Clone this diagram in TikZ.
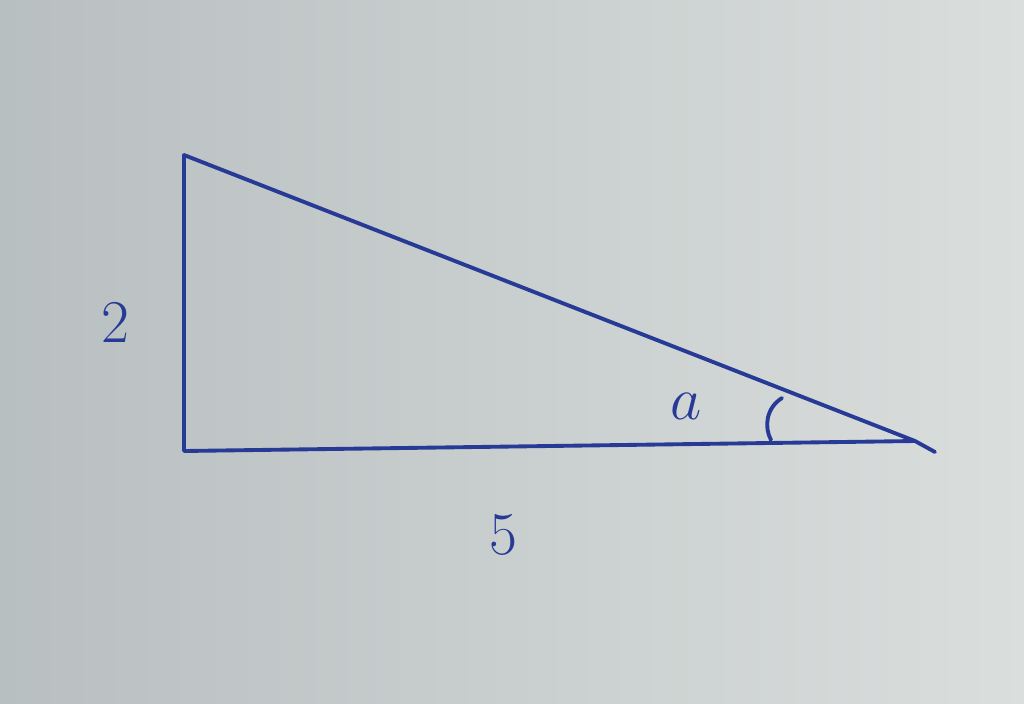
\documentclass[tikz,border=0pt]{standalone}
\usetikzlibrary{calc}
\definecolor{paperL}{RGB}{184,191,192}
\definecolor{paperR}{RGB}{218,222,221}
\definecolor{ink}{RGB}{38,58,150}
\tikzset{
  edge/.style={draw=ink, line width=1.1pt, line cap=round, line join=round},
  lbl/.style={text=ink, font=\fontsize{16}{18}\selectfont, inner sep=0pt}
}
\begin{document}
\begin{tikzpicture}
\shade[left color=paperL, right color=paperR] (0,0) rectangle (10.24,7.03);
\useasboundingbox (0,0) rectangle (10.24,7.03);
\coordinate (A) at (1.84,5.48);
\coordinate (B) at (1.84,2.52);
\coordinate (C) at (9.15,2.62);
\coordinate (T) at (9.35,2.51);
\draw[edge] (B) -- (A) -- (C) -- (B);
\draw[edge] (C) -- (T);
\draw[edge] (7.82,3.05) .. controls (7.66,2.95) and (7.64,2.76) .. (7.71,2.63);
\node[lbl] (two) at (1.15,3.80) {$2$};
\node[lbl] (alpha) at (6.86,2.97) {$a$};
\node[lbl] (five) at (5.03,1.68) {$5$};
\end{tikzpicture}
\end{document}
